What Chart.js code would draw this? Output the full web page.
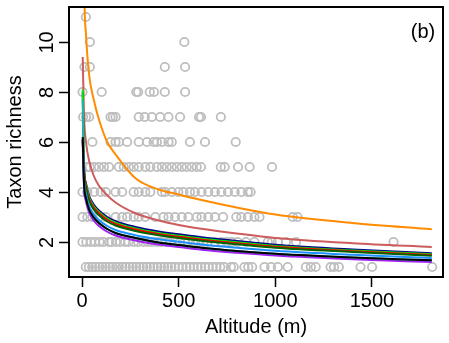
<!DOCTYPE html>
<html>
<head>
<meta charset="utf-8">
<script src="https://cdn.jsdelivr.net/npm/chart.js@4.4.1/dist/chart.umd.min.js"></script>
<style>
  html, body { margin: 0; padding: 0; background: #fff; }
</style>
</head>
<body>
<canvas id="chart" width="449" height="343"></canvas>
<script>
// Observed taxon richness: altitudes (m) of the sites at each richness value
const rich1 = [19, 35, 52, 70, 88, 105, 122, 140, 158, 176, 190, 208, 226, 245, 262, 280, 298, 316, 335, 352, 370, 390, 408, 425, 444, 462, 480, 500, 520, 540, 558, 578, 598, 616, 636, 655, 676, 695, 715, 735, 770, 785, 840, 860, 880, 944, 978, 1013, 1064, 1158, 1184, 1209, 1286, 1304, 1329, 1441, 1501, 1812];
const rich2 = [2, 22, 45, 66, 90, 110, 139, 152, 175, 196, 222, 240, 268, 290, 318, 340, 362, 388, 410, 436, 455, 480, 505, 530, 548, 575, 600, 628, 650, 687, 720, 748, 775, 805, 848, 892, 961, 981, 1013, 1055, 1107, 1612];
const rich3 = [2, 27, 53, 87, 122, 173, 207, 233, 267, 293, 327, 379, 421, 447, 481, 516, 550, 593, 618, 653, 687, 730, 798, 824, 858, 892, 918, 1090, 1115];
const rich4 = [2, 27, 62, 96, 122, 173, 207, 267, 293, 327, 353, 413, 430, 464, 498, 524, 558, 584, 618, 653, 687, 721, 755, 790, 824, 858, 872];
const rich5 = [25, 40, 62, 87, 113, 139, 190, 216, 242, 267, 293, 327, 353, 387, 413, 438, 464, 490, 516, 541, 567, 593, 615, 718, 738, 807, 867, 983];
const rich6 = [53, 147, 173, 190, 233, 293, 336, 370, 387, 413, 447, 464, 558, 636, 795];
const rich7 = [5, 20, 36, 147, 159, 173, 293, 324, 361, 404, 447, 507, 605, 615, 718];
const rich8 = [2, 101, 280, 290, 350, 372, 428, 533];
const rich9 = [12, 40, 428, 533];
const rich10 = [40, 529];
const rich11 = [19];

const fitAlt = [3, 10, 20, 36, 60, 87, 130, 173, 276, 396, 500, 618, 800, 1000, 1400, 1810];
const fitOrange = [21.3, 12.6, 10.3, 8.7, 7.7, 6.9, 6.0, 5.5, 4.55, 4.1, 3.9, 3.68, 3.38, 3.1, 2.76, 2.51];
const fitIndianred = [9.4, 7.0, 6.0, 5.25, 4.65, 4.25, 3.87, 3.58, 3.15, 2.86, 2.68, 2.53, 2.34, 2.16, 1.95, 1.8];
const fitNavy = [8.0, 5.0, 4.35, 3.85, 3.5, 3.26, 3.0, 2.83, 2.6, 2.42, 2.31, 2.19, 2.04, 1.89, 1.7, 1.55];
const fitGreen = [8.1, 4.9, 4.27, 3.78, 3.43, 3.2, 2.94, 2.77, 2.54, 2.36, 2.25, 2.13, 1.99, 1.84, 1.66, 1.51];
const fitRed = [6.1, 4.85, 4.22, 3.73, 3.38, 3.15, 2.89, 2.72, 2.5, 2.32, 2.21, 2.09, 1.95, 1.81, 1.63, 1.48];
const fitDarkgreen = [6.1, 4.75, 4.13, 3.65, 3.3, 3.07, 2.82, 2.66, 2.44, 2.27, 2.16, 2.05, 1.91, 1.77, 1.6, 1.45];
const fitBlue = [6.1, 4.5, 3.92, 3.45, 3.1, 2.88, 2.64, 2.48, 2.27, 2.11, 2.01, 1.9, 1.77, 1.65, 1.49, 1.36];
const fitTeal = [7.7, 4.3, 3.75, 3.3, 2.98, 2.76, 2.52, 2.36, 2.16, 1.98, 1.88, 1.77, 1.64, 1.53, 1.38, 1.27];
const fitPurple = [6.0, 4.15, 3.62, 3.18, 2.86, 2.64, 2.41, 2.26, 2.06, 1.9, 1.8, 1.69, 1.57, 1.46, 1.31, 1.2];
const fitBlack = [6.2, 4.3, 3.75, 3.3, 2.98, 2.76, 2.52, 2.36, 2.16, 1.98, 1.88, 1.77, 1.64, 1.53, 1.38, 1.27];

const xTicks = [0, 500, 1000, 1500];
const yTicks = [2, 4, 6, 8, 10];
const panelLabel = '(b)';

const FONT = '"Liberation Sans", Arial, Helvetica, sans-serif';
Chart.defaults.font.family = FONT;
Chart.defaults.color = '#000';

const richRows = [rich1, rich2, rich3, rich4, rich5, rich6, rich7, rich8, rich9, rich10, rich11];
const sites = [];
richRows.forEach((alts, i) => {
    alts.forEach(a => sites.push({ x: a, y: i + 1 }));
});

function curve(values, color) {
    return {
        data: fitAlt.map((a, i) => ({ x: a, y: values[i] })),
        showLine: true,
        borderColor: color,
        borderWidth: 2,
        pointRadius: 0,
        fill: false,
        cubicInterpolationMode: 'monotone'
    };
}

// first in the list is drawn on top
const curves = [
    curve(fitBlack, '#000000'),
    curve(fitTeal, '#20B2AA'),
    curve(fitPurple, '#A020F0'),
    curve(fitBlue, '#1E90FF'),
    curve(fitDarkgreen, '#006400'),
    curve(fitRed, '#FF0000'),
    curve(fitGreen, '#00EE00'),
    curve(fitNavy, '#00008B'),
    curve(fitIndianred, '#CD5C5C'),
    curve(fitOrange, '#FF8C00')
];

const framePlugin = {
    id: 'frame',
    afterDraw(chart) {
        const { ctx, chartArea: a, scales: { y } } = chart;
        ctx.save();
        ctx.strokeStyle = '#000';
        ctx.lineWidth = 2;
        ctx.strokeRect(a.left, a.top, a.right - a.left, a.bottom - a.top);
        // y ticks and labels, labels parallel to the axis
        ctx.lineWidth = 1.5;
        ctx.fillStyle = '#000';
        ctx.font = '20px ' + FONT;
        ctx.textAlign = 'center';
        ctx.textBaseline = 'middle';
        yTicks.forEach(v => {
            const py = Math.round(y.getPixelForValue(v)) + 0.5;
            ctx.beginPath();
            ctx.moveTo(a.left - 10, py);
            ctx.lineTo(a.left, py);
            ctx.stroke();
            ctx.save();
            ctx.translate(47, py);
            ctx.rotate(-Math.PI / 2);
            ctx.fillText(String(v), 0, 0);
            ctx.restore();
        });
        ctx.fillText(panelLabel, a.right - 20, a.top + 25);
        ctx.restore();
    }
};

new Chart(document.getElementById('chart'), {
    type: 'scatter',
    data: {
        datasets: curves.concat([{
            data: sites,
            pointRadius: 4.2,
            pointHoverRadius: 4.2,
            borderWidth: 1.8,
            borderColor: '#BEBEBE',
            backgroundColor: 'rgba(0,0,0,0)',
            showLine: false
        }])
    },
    options: {
        responsive: false,
        animation: false,
        devicePixelRatio: 1,
        layout: { padding: { top: 7, right: 4, left: 0, bottom: 0 } },
        plugins: {
            legend: { display: false },
            tooltip: { enabled: false }
        },
        scales: {
            x: {
                type: 'linear',
                min: -68,
                max: 1868,
                afterBuildTicks: s => { s.ticks = xTicks.map(v => ({ value: v })); },
                afterFit: s => { s.height = 66; },
                ticks: { font: { size: 20 }, color: '#000', padding: 2, maxRotation: 0, callback: v => String(v) },
                grid: { drawOnChartArea: false, drawTicks: true, tickLength: 10, tickWidth: 1.5, tickColor: '#000', color: '#000' },
                border: { display: false },
                title: { display: true, text: 'Altitude (m)', font: { size: 20 }, color: '#000', padding: { top: 0, bottom: 4 } }
            },
            y: {
                type: 'linear',
                min: 0.6,
                max: 11.4,
                afterBuildTicks: s => { s.ticks = yTicks.map(v => ({ value: v })); },
                afterFit: s => { s.width = 69; },
                ticks: { display: false },
                grid: { display: false },
                border: { display: false },
                title: { display: true, text: 'Taxon richness', font: { size: 20 }, color: '#000', padding: { top: 3, bottom: 0 } }
            }
        }
    },
    plugins: [framePlugin]
});
</script>
</body>
</html>
